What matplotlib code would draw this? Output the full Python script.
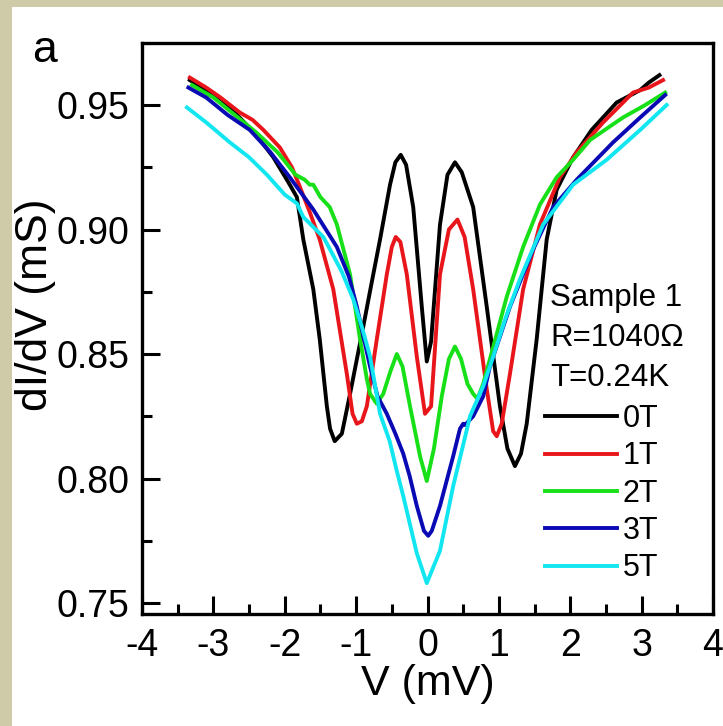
import matplotlib
matplotlib.use("Agg")
import matplotlib.pyplot as plt
from matplotlib.patches import Rectangle
from matplotlib.ticker import MultipleLocator, FormatStrFormatter

plt.rcParams['font.family'] = ['Liberation Sans', 'DejaVu Sans']
plt.rcParams['axes.unicode_minus'] = False

# ---------------- data ----------------
x_0T = [-3.33, -3.0, -2.7, -2.4, -2.16, -1.95, -1.83, -1.74, -1.60, -1.51, -1.41, -1.365,
        -1.30, -1.20, -1.085, -0.90, -0.78, -0.665, -0.525, -0.45, -0.375, -0.30, -0.20,
        -0.08, -0.01, 0.05, 0.175, 0.28, 0.385, 0.48, 0.64, 0.83, 1.015, 1.12, 1.225,
        1.31, 1.39, 1.53, 1.67, 1.81, 2.04, 2.30, 2.65, 2.98, 3.10, 3.25]
y_0T = [0.960, 0.954, 0.947, 0.938, 0.929, 0.919, 0.913, 0.896, 0.876, 0.856, 0.829, 0.820,
        0.815, 0.818, 0.834, 0.861, 0.879, 0.896, 0.918, 0.927, 0.930, 0.926, 0.909,
        0.869, 0.847, 0.855, 0.902, 0.922, 0.927, 0.923, 0.909, 0.869, 0.829, 0.812, 0.805,
        0.810, 0.822, 0.856, 0.896, 0.916, 0.929, 0.940, 0.951, 0.956, 0.959, 0.962]

x_1T = [-3.33, -3.1, -2.9, -2.63, -2.45, -2.30, -2.07, -1.90, -1.80, -1.65, -1.51, -1.32,
        -1.13, -1.05, -0.99, -0.92, -0.85, -0.71, -0.57, -0.50, -0.445, -0.38, -0.29,
        -0.15, -0.035, 0.05, 0.175, 0.30, 0.42, 0.52, 0.64, 0.83, 0.92, 0.97, 1.04, 1.155,
        1.34, 1.575, 1.855, 2.09, 2.46, 2.88, 3.10, 3.30]
y_1T = [0.961, 0.957, 0.953, 0.947, 0.944, 0.940, 0.933, 0.925, 0.918, 0.907, 0.896, 0.876,
        0.842, 0.826, 0.822, 0.823, 0.829, 0.856, 0.882, 0.893, 0.897, 0.895, 0.882,
        0.849, 0.826, 0.829, 0.882, 0.900, 0.904, 0.897, 0.876, 0.836, 0.819, 0.817, 0.822, 0.842,
        0.876, 0.902, 0.921, 0.931, 0.943, 0.955, 0.957, 0.960]

x_2T = [-3.30, -3.0, -2.7, -2.4, -2.1, -1.85, -1.72, -1.65, -1.60, -1.50, -1.37, -1.27,
        -1.085, -0.945, -0.85, -0.805, -0.71, -0.62, -0.52, -0.43, -0.35, -0.245, -0.105,
        -0.01, 0.09, 0.20, 0.30, 0.385, 0.47, 0.56, 0.64, 0.70, 0.78, 0.875, 1.11, 1.34,
        1.575, 1.81, 2.04, 2.28, 2.74, 3.05, 3.33]
y_2T = [0.958, 0.953, 0.946, 0.939, 0.931, 0.922, 0.920, 0.918, 0.918, 0.913, 0.909, 0.902,
        0.882, 0.856, 0.840, 0.834, 0.830, 0.834, 0.843, 0.850, 0.845, 0.829, 0.809,
        0.799, 0.812, 0.833, 0.848, 0.853, 0.848, 0.838, 0.834, 0.832, 0.838, 0.848, 0.873, 0.893,
        0.910, 0.921, 0.928, 0.936, 0.945, 0.950, 0.955]

x_3T = [-3.35, -3.1, -2.8, -2.49, -2.2, -1.93, -1.6, -1.27, -1.10, -0.99, -0.805, -0.70,
        -0.57, -0.45, -0.34, -0.25, -0.15, -0.05, 0.01, 0.06, 0.175, 0.36, 0.455, 0.50,
        0.525, 0.64, 0.78, 0.875, 1.155, 1.48, 1.76, 2.09, 2.60, 2.98, 3.33]
y_3T = [0.957, 0.953, 0.946, 0.940, 0.931, 0.921, 0.908, 0.893, 0.881, 0.869, 0.845, 0.833,
        0.826, 0.818, 0.810, 0.801, 0.789, 0.779, 0.777, 0.779, 0.789, 0.809, 0.820, 0.822,
        0.8215, 0.825, 0.833, 0.845, 0.869, 0.892, 0.909, 0.920, 0.935, 0.945, 0.954]

x_5T = [-3.37, -3.1, -2.77, -2.5, -2.25, -2.0, -1.83, -1.74, -1.46, -1.365, -1.20, -1.04,
        -0.92, -0.805, -0.665, -0.53, -0.43, -0.34, -0.15, -0.01, 0.175, 0.36, 0.55, 0.595,
        0.78, 0.92, 1.10, 1.295, 1.62, 2.04, 2.51, 2.98, 3.35]
y_5T = [0.949, 0.943, 0.935, 0.929, 0.922, 0.914, 0.9105, 0.905, 0.897, 0.892, 0.883, 0.872,
        0.861, 0.849, 0.826, 0.815, 0.803, 0.793, 0.770, 0.758, 0.771, 0.797, 0.8195, 0.825,
        0.837, 0.849, 0.865, 0.880, 0.902, 0.918, 0.928, 0.940, 0.950]

series_labels = ['0T', '1T', '2T', '3T', '5T']
series_colors = ['#000000', '#e8161b', '#18e018', '#0a0ab4', '#12e6f0']
header_lines = ['Sample 1', 'R=1040\u03a9', 'T=0.24K']

x_ticks = [-4, -3, -2, -1, 0, 1, 2, 3, 4]
y_ticks = [0.75, 0.80, 0.85, 0.90, 0.95]

# ---------------- figure ----------------
W, H = 723, 726
fig = plt.figure(figsize=(W / 100, H / 100), dpi=100, facecolor='#cfcba8')
fig.patches.append(Rectangle((12 / W, 0), 1 - 12 / W, 1 - 7 / H, transform=fig.transFigure,
                             facecolor='white', edgecolor='none', zorder=-10))

AL, AR, AT, AB = 142, 713, 43, 614
ax = fig.add_axes([AL / W, 1 - AB / H, (AR - AL) / W, (AB - AT) / H])
ax.set_facecolor('white')

def ax_fx(px):
    return (px - AL) / (AR - AL)

def ax_fy(py):
    return (AB - py) / (AB - AT)

xs = [x_0T, x_1T, x_2T, x_3T, x_5T]
ys = [y_0T, y_1T, y_2T, y_3T, y_5T]
handles = []
for xv, yv, lab, col in zip(xs, ys, series_labels, series_colors):
    h, = ax.plot(xv, yv, color=col, lw=2.8, label=lab, solid_joinstyle='round')
    handles.append(h)

ax.set_xlim(-4, 4)
ax.set_ylim(0.7456, 0.9749)
ax.set_xticks(x_ticks)
ax.set_yticks(y_ticks)
ax.xaxis.set_minor_locator(MultipleLocator(0.5))
ax.yaxis.set_minor_locator(MultipleLocator(0.025))
ax.yaxis.set_major_formatter(FormatStrFormatter('%.2f'))
ax.tick_params(which='both', direction='in', top=False, right=False, width=2.2,
               labelsize=27, colors='black')
ax.tick_params(which='major', length=13)
ax.tick_params(which='minor', length=7)
ax.tick_params(axis='y', which='major', pad=9)
ax.tick_params(axis='x', which='major', pad=10)
for s in ax.spines.values():
    s.set_linewidth(2.4)

ax.set_xlabel('V (mV)', fontsize=31, labelpad=0)
ax.set_ylabel('dI/dV (mS)', fontsize=32)
ax.yaxis.set_label_coords(ax_fx(56), ax_fy(305))

fig.text(32 / W, 1 - 50 / H, 'a', fontsize=32, va='center', ha='left')

for i, t in enumerate(header_lines):
    ax.text(ax_fx(550), ax_fy(298 + 40 * i), t,
            fontsize=22.5, ha='left', va='center', transform=ax.transAxes)

leg = ax.legend(handles=handles, loc='upper left', frameon=False, fontsize=22,
                handlelength=2.35, handletextpad=0.2, labelspacing=0.24,
                borderaxespad=0, borderpad=0,
                bbox_to_anchor=(ax_fx(545), ax_fy(404)))

fig.savefig('out.png', dpi=100, facecolor=fig.get_facecolor())
